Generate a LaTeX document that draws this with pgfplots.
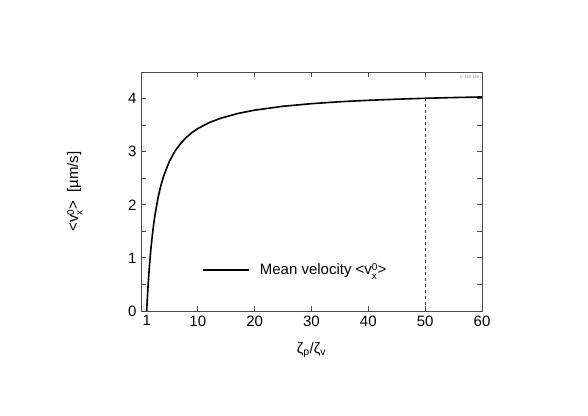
\documentclass[border=0pt]{standalone}
\usepackage{pgfplots}
\pgfplotsset{compat=1.18}
\usepackage{fontspec}
\setmainfont{Liberation Sans}

\newcommand{\vxo}{v\raisebox{-0.55ex}{\fontsize{10}{8}\selectfont\shortstack[l]{0\\x}}}

\begin{document}
\begin{tikzpicture}
\begin{axis}[
    scale only axis,
    width=341pt, height=239pt,
    xmin=0, xmax=60, ymin=0, ymax=4.5,
    xtick={10,20,30,40,50,60},
    extra x ticks={1},
    extra x tick style={major tick length=0pt},
    ytick={0,1,2,3,4},
    minor ytick={0.5,1.5,2.5,3.5},
    tick align=inside,
    major tick length=5pt, minor tick length=5pt,
    axis line style={draw=black!70, line width=0.9pt},
    tick style={black!70, line width=0.8pt},
    /pgf/number format/assume math mode=true,
    tick label style={font=\fontsize{15}{17}\selectfont},
    xticklabel style={yshift=-1pt},
    yticklabel style={xshift=-1pt},
    xlabel={ζ\textsubscript{p}/ζ\textsubscript{v}},
    ylabel={<\vxo>\ \ [µm/s]},
    label style={font=\fontsize{15}{17}\selectfont},
    xlabel style={at={(axis description cs:0.5,-0.163)}, anchor=center},
    ylabel style={at={(axis description cs:-0.194,0.5)}, anchor=center},
    legend style={draw=none, fill=none, inner sep=0pt, at={(0.179,0.172)}, anchor=west,
        font=\fontsize{15}{17}\selectfont},
    legend cell align=left,
    legend image code/.code={\draw[#1] (0pt,0pt) -- (46pt,0pt); \path (54pt,0pt);},
]
\addplot[black, line width=1.6pt] coordinates {
(1,0) (1.05,0.107) (1.1,0.208) (1.15,0.304) (1.25,0.484) (1.35,0.647) (1.5,0.867)
(1.75,1.177) (2,1.434) (2.25,1.651) (2.5,1.835) (3,2.133) (3.5,2.364) (4,2.547)
(5,2.820) (6,3.014) (7,3.159) (8,3.272) (9,3.362) (10,3.435) (12,3.547) (14,3.629)
(17,3.718) (20,3.782) (25,3.855) (30,3.904) (35,3.940) (40,3.967) (45,3.988)
(50,4.005) (55,4.019) (60,4.030)
};
\addlegendentry{Mean velocity <\vxo>}
\addplot[black!80, line width=0.8pt, dashed, forget plot] coordinates {(50,0) (50,4.005)};
\node[anchor=north east, font=\fontsize{4}{4}\selectfont, text=black!50, inner sep=1pt]
    at (rel axis cs:0.995,0.99) {C-182-169};
\end{axis}
\path (-141pt,-104pt) rectangle (447pt,311pt);
\end{tikzpicture}
\end{document}
